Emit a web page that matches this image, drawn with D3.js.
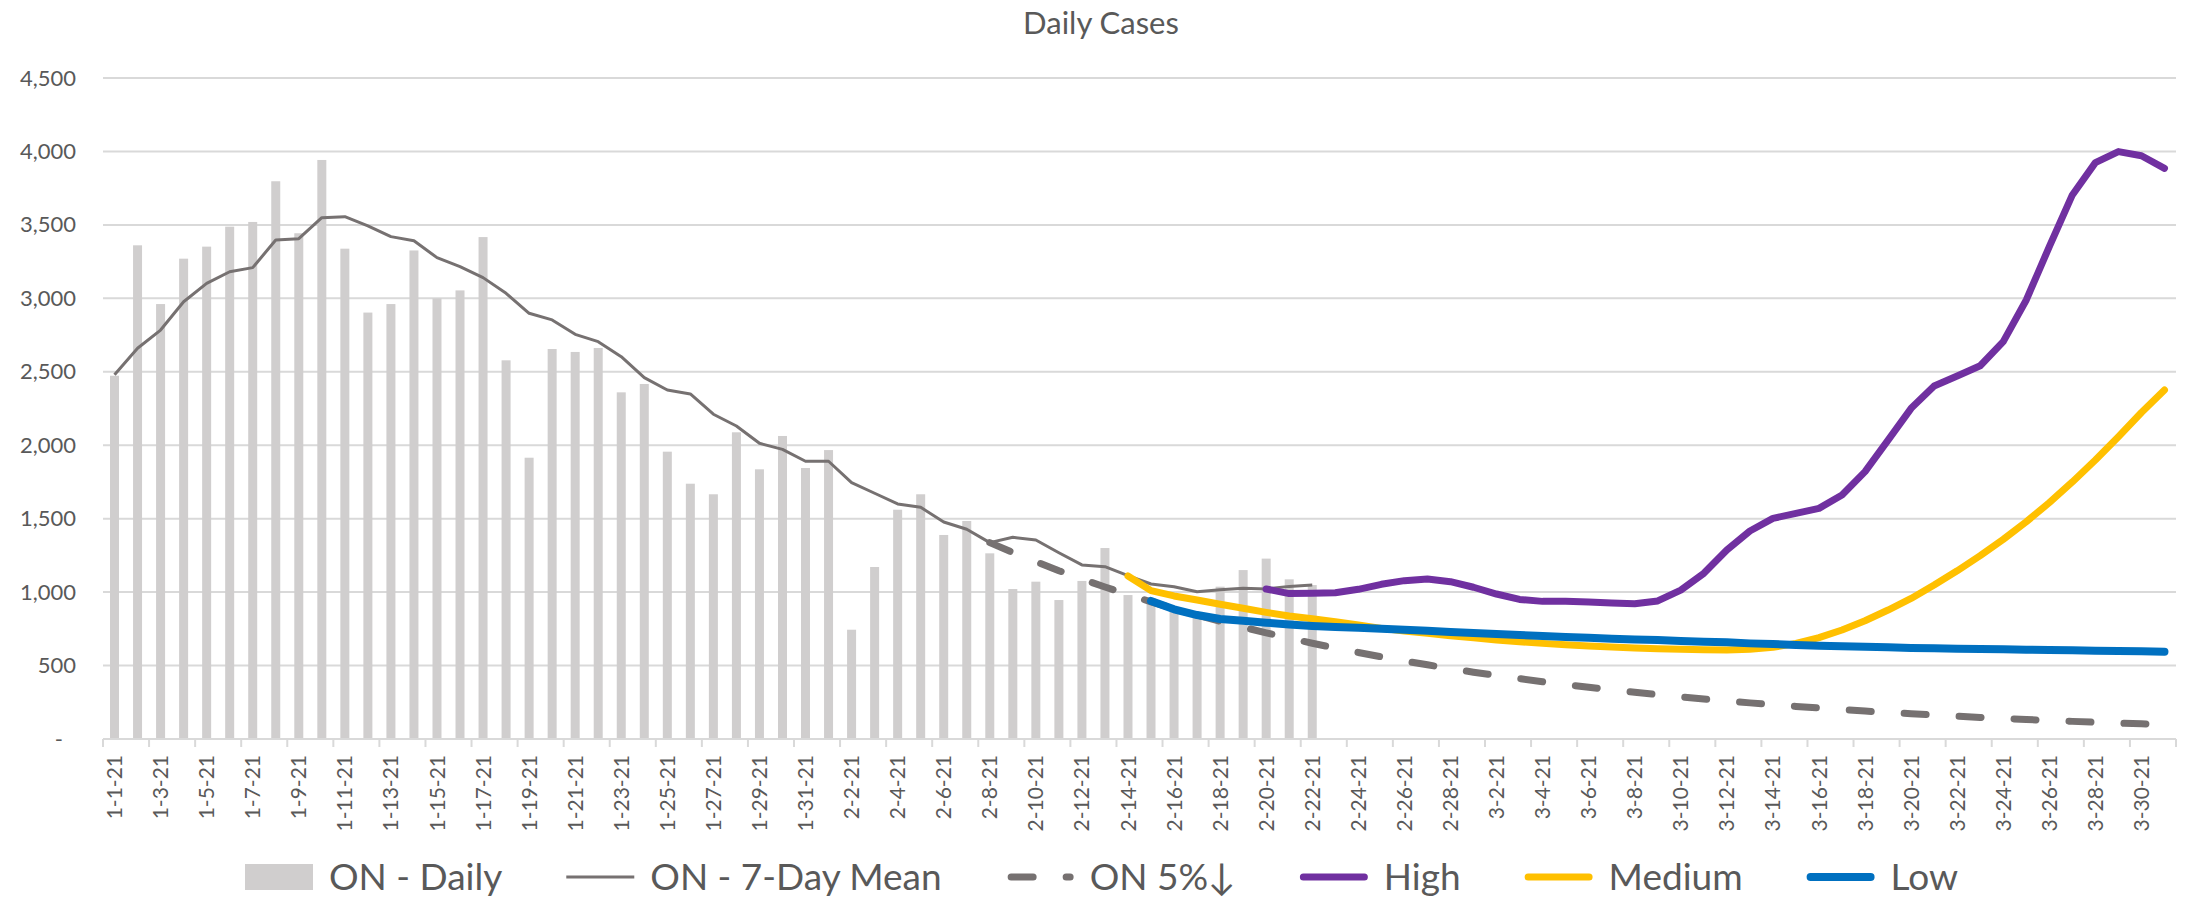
<!DOCTYPE html>
<html>
<head>
<meta charset="utf-8">
<script src="https://cdn.jsdelivr.net/npm/d3@7"></script>
<style>
  html, body { margin: 0; padding: 0; background: #ffffff; }
  svg { display: block; font-family: Lato, "Open Sans", sans-serif; }
</style>
</head>
<body>
<svg id="chart" width="2188" height="899"></svg>
<script>
// Category axis: one entry per day, 1-1-21 .. 3-31-21
const dates = [
  "1-1-21","1-2-21","1-3-21","1-4-21","1-5-21","1-6-21","1-7-21","1-8-21","1-9-21","1-10-21",
  "1-11-21","1-12-21","1-13-21","1-14-21","1-15-21","1-16-21","1-17-21","1-18-21","1-19-21","1-20-21",
  "1-21-21","1-22-21","1-23-21","1-24-21","1-25-21","1-26-21","1-27-21","1-28-21","1-29-21","1-30-21",
  "1-31-21","2-1-21","2-2-21","2-3-21","2-4-21","2-5-21","2-6-21","2-7-21","2-8-21","2-9-21",
  "2-10-21","2-11-21","2-12-21","2-13-21","2-14-21","2-15-21","2-16-21","2-17-21","2-18-21","2-19-21",
  "2-20-21","2-21-21","2-22-21","2-23-21","2-24-21","2-25-21","2-26-21","2-27-21","2-28-21","3-1-21",
  "3-2-21","3-3-21","3-4-21","3-5-21","3-6-21","3-7-21","3-8-21","3-9-21","3-10-21","3-11-21",
  "3-12-21","3-13-21","3-14-21","3-15-21","3-16-21","3-17-21","3-18-21","3-19-21","3-20-21","3-21-21",
  "3-22-21","3-23-21","3-24-21","3-25-21","3-26-21","3-27-21","3-28-21","3-29-21","3-30-21","3-31-21"
];

// ON - Daily (from 1-1-21)
const dailyStart = "1-1-21";
const daily = [
  2473, 3361, 2961, 3270, 3352, 3488, 3520, 3797, 3443, 3942,
  3338, 2903, 2961, 3326, 3000, 3054, 3417, 2578, 1915, 2655,
  2635, 2662, 2360, 2417, 1956, 1738, 1666, 2088, 1836, 2063,
  1845, 1967, 744, 1171, 1561, 1666, 1389, 1484, 1264, 1021,
  1071, 946, 1076, 1300, 980, 960, 900, 850, 1037, 1150,
  1228, 1087, 1048
];

// ON - 7-Day Mean (from 1-1-21)
const meanStart = "1-1-21";
const mean7 = [
  2480, 2660, 2784, 2977, 3102, 3181, 3209, 3397, 3406, 3549,
  3556, 3494, 3420, 3392, 3277, 3216, 3141, 3034, 2898, 2853,
  2755, 2705, 2603, 2460, 2376, 2349, 2211, 2131, 2013, 1972,
  1891, 1891, 1746, 1673, 1600, 1577, 1477, 1428, 1337, 1373,
  1355, 1268, 1185, 1173, 1112, 1055, 1037, 1003, 1016, 1026,
  1021, 1039, 1048
];

// ON 5%↓ (from 2-8-21)
const on5Start = "2-8-21";
const on5 = [
  1337, 1270, 1207, 1146, 1089, 1035, 983, 934, 887, 843,
  801, 761, 723, 686, 652, 620, 589, 559, 531, 505,
  479, 455, 433, 411, 390, 371, 352, 335, 318, 302,
  287, 273, 259, 246, 234, 222, 211, 200, 190, 181,
  172, 163, 155, 147, 140, 133, 126, 120, 114, 108,
  103, 98
];

// High scenario (from 2-20-21)
const highStart = "2-20-21";
const high = [
  1021, 990, 992, 996, 1019, 1053, 1078, 1089, 1071, 1033,
  987, 950, 937, 937, 933, 926, 921, 940, 1014, 1128,
  1287, 1416, 1502, 1536, 1570, 1661, 1820, 2035, 2251, 2403,
  2471, 2541, 2705, 2989, 3352, 3704, 3924, 3999, 3971, 3885
];

// Medium scenario (from 2-14-21)
const mediumStart = "2-14-21";
const medium = [
  1110, 1010, 974, 946, 917, 890, 862, 837, 818, 799,
  776, 753, 735, 720, 703, 690, 674, 662, 651, 642,
  633, 626, 620, 615, 611, 608, 606, 611, 624, 651,
  690, 742, 805, 878, 957, 1048, 1145, 1248, 1359, 1479,
  1609, 1750, 1900, 2058, 2223, 2376
];

// Low scenario (from 2-15-21)
const lowStart = "2-15-21";
const low = [
  940, 883, 844, 817, 805, 792, 780, 770, 763, 757,
  751, 744, 737, 728, 721, 715, 708, 701, 694, 690,
  683, 678, 674, 667, 662, 658, 651, 647, 640, 635,
  631, 628, 624, 620, 617, 615, 613, 611, 608, 606,
  604, 601, 599, 597, 594
];

const yTicks = [0, 500, 1000, 1500, 2000, 2500, 3000, 3500, 4000, 4500];
const titleText = "Daily Cases";

// ---- layout ----
const svg = d3.select("#chart");
const plot = { left: 103, right: 2176, top: 78, bottom: 739 };
const textColor = "#595959";
const gridColor = "#d9d9d9";

const x = d3.scaleBand().domain(dates).range([plot.left, plot.right]).padding(0);
const step = x.step();
const cx = d => x(d) + step / 2;
const y = d3.scaleLinear().domain([0, 4500]).range([plot.bottom, plot.top]);

// pair each value with its date, starting at the series' first date
const withDates = (start, vals) => {
  const i0 = dates.indexOf(start);
  return vals.map((v, i) => ({ date: dates[i0 + i], value: v }));
};

// title
svg.append("text")
  .attr("x", 1101).attr("y", 34)
  .attr("text-anchor", "middle")
  .attr("fill", textColor)
  .style("font-size", "31px")
  .text(titleText);

// horizontal gridlines
svg.append("g")
  .selectAll("line")
  .data(yTicks.filter(t => t > 0))
  .join("line")
  .attr("x1", plot.left).attr("x2", plot.right)
  .attr("y1", d => y(d)).attr("y2", d => y(d))
  .attr("stroke", gridColor).attr("stroke-width", 2);

// y axis labels
const yAxis = d3.axisLeft(y)
  .tickValues(yTicks)
  .tickSize(0)
  .tickPadding(27)
  .tickFormat(d => d === 0 ? "-" : d3.format(",")(d));
const gy = svg.append("g").attr("transform", `translate(${plot.left},0)`).call(yAxis);
gy.select(".domain").remove();
gy.selectAll("text")
  .attr("fill", textColor)
  .style("font-family", "Lato, 'Open Sans', sans-serif")
  .style("font-size", "22px");
gy.selectAll(".tick").filter(d => d === 0).select("text").attr("dx", -13);

// bars: ON - Daily
const barW = 9;
svg.append("g")
  .selectAll("rect")
  .data(withDates(dailyStart, daily))
  .join("rect")
  .attr("x", d => cx(d.date) - barW / 2)
  .attr("width", barW)
  .attr("y", d => y(d.value))
  .attr("height", d => y(0) - y(d.value))
  .attr("fill", "#d0cece");

// x axis line, ticks every second day, labels
const gx = svg.append("g");
gx.append("line")
  .attr("x1", plot.left).attr("x2", plot.right)
  .attr("y1", plot.bottom).attr("y2", plot.bottom)
  .attr("stroke", gridColor).attr("stroke-width", 2);
const tickIdx = d3.range(0, dates.length + 1, 2);
gx.selectAll("line.tick")
  .data(tickIdx)
  .join("line")
  .attr("class", "tick")
  .attr("x1", i => plot.left + i * step).attr("x2", i => plot.left + i * step)
  .attr("y1", plot.bottom).attr("y2", plot.bottom + 8)
  .attr("stroke", gridColor).attr("stroke-width", 2);
gx.selectAll("text")
  .data(dates.filter((d, i) => i % 2 === 0))
  .join("text")
  .attr("transform", d => `translate(${cx(d)},${plot.bottom + 16}) rotate(-90)`)
  .attr("text-anchor", "end")
  .attr("dy", "0.36em")
  .attr("fill", textColor)
  .style("font-size", "21px")
  .text(d => d);

// lines
const line = d3.line().x(d => cx(d.date)).y(d => y(d.value));

const series = [
  { name: "ON - 7-Day Mean", data: withDates(meanStart, mean7), color: "#767171", width: 3, dash: null, cap: "butt" },
  { name: "ON 5%↓", data: withDates(on5Start, on5), color: "#767171", width: 7, dash: "22 33", cap: "round" },
  { name: "High", data: withDates(highStart, high), color: "#7030a0", width: 7, dash: null, cap: "round" },
  { name: "Medium", data: withDates(mediumStart, medium), color: "#ffc000", width: 7, dash: null, cap: "round" },
  { name: "Low", data: withDates(lowStart, low), color: "#0070c0", width: 8, dash: null, cap: "round" }
];

svg.append("g")
  .selectAll("path")
  .data(series)
  .join("path")
  .attr("d", s => line(s.data))
  .attr("fill", "none")
  .attr("stroke", s => s.color)
  .attr("stroke-width", s => s.width)
  .attr("stroke-linejoin", "round")
  .attr("stroke-linecap", s => s.cap)
  .attr("stroke-dasharray", s => s.dash);

// legend
const legendItems = [
  { name: "ON - Daily", type: "bar", color: "#d0cece" },
  ...series.map(s => ({ name: s.name, type: "line", color: s.color, width: s.width, dash: s.dash, cap: s.cap }))
];
const legY = 877;
const legend = svg.append("g");
const sampleW = 68, sampleGap = 16, itemGap = 64;
let cursor = 0;
const placed = [];
legendItems.forEach(it => {
  const g = legend.append("g");
  if (it.type === "bar") {
    g.append("rect").attr("x", 0).attr("y", legY - 13).attr("width", sampleW).attr("height", 26).attr("fill", it.color);
  } else {
    const inset = it.cap === "round" ? it.width / 2 : 0;
    g.append("line")
      .attr("x1", inset + (it.dash ? 2 : 0)).attr("x2", sampleW - inset)
      .attr("y1", legY).attr("y2", legY)
      .attr("stroke", it.color).attr("stroke-width", it.width)
      .attr("stroke-linecap", it.cap)
      .attr("stroke-dasharray", it.dash);
  }
  const t = g.append("text")
    .attr("x", sampleW + sampleGap).attr("y", legY + 13)
    .attr("fill", textColor)
    .style("font-size", "37px")
    .text(it.name);
  const w = sampleW + sampleGap + t.node().getComputedTextLength();
  placed.push({ g, offset: cursor });
  cursor += w + itemGap;
});
const totalW = cursor - itemGap;
const legLeft = 1101.5 - totalW / 2;
placed.forEach(p => p.g.attr("transform", `translate(${legLeft + p.offset},0)`));
</script>
</body>
</html>
